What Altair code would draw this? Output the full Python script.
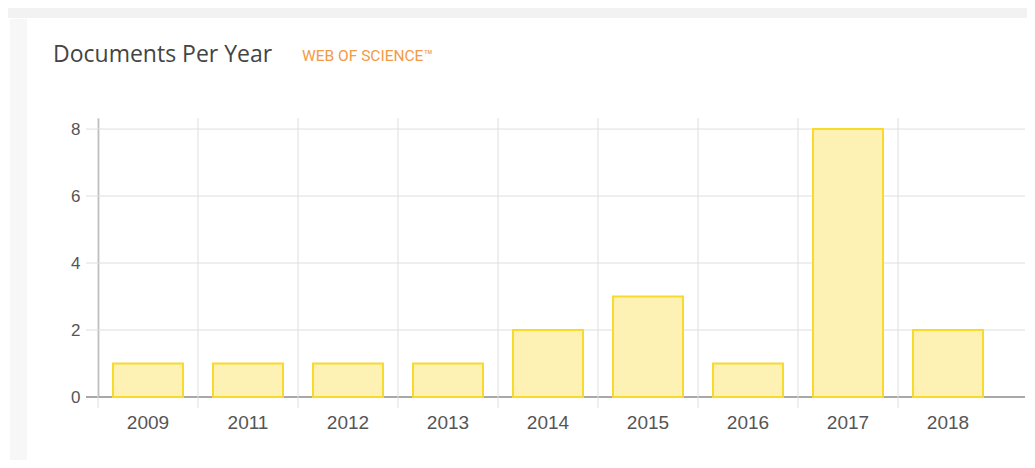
import altair as alt
import pandas as pd

years = ["2009", "2011", "2012", "2013", "2014", "2015", "2016", "2017", "2018"]
counts = [1, 1, 1, 1, 2, 3, 1, 8, 2]
y_ticks = [0, 2, 4, 6, 8]
title_text = "Documents Per Year"
logo_text = "WEB OF SCIENCE\u2122"

df = pd.DataFrame({"year": years, "count": counts})
grid_df = pd.DataFrame({"v": y_ticks})

PLOT_W = 927
PLOT_H = 279
xscale = alt.Scale(range=[0, 900], paddingInner=0.3, paddingOuter=0.15)
yscale = alt.Scale(domain=[0, 8.33], nice=False, zero=True)

xaxis = alt.Axis(
    grid=False,
    ticks=False,
    domain=False,
    labelAngle=0,
    labelFont="Liberation Sans",
    labelFontSize=19,
    labelColor="#555555",
    labelPadding=16,
)
yaxis = alt.Axis(
    values=y_ticks,
    grid=False,
    ticks=False,
    labelFont="Liberation Sans",
    labelFontSize=17,
    labelColor="#555555",
    labelPadding=18,
    domainColor="#a0a0a0",
    domainWidth=1.5,
)

# card decorations
top_band = alt.Chart(pd.DataFrame({"t": [0]})).mark_rect(color="#f2f2f2").encode(
    x=alt.value(-98), x2=alt.value(940), y=alt.value(-110), y2=alt.value(-100)
)
left_strip = alt.Chart(pd.DataFrame({"t": [0]})).mark_rect(color="#f7f7f7").encode(
    x=alt.value(-88), x2=alt.value(-71), y=alt.value(-99), y2=alt.value(345)
)

hgrid = alt.Chart(grid_df).mark_rule().encode(
    y=alt.Y("v:Q", scale=yscale, axis=yaxis, title=None),
    x=alt.value(-12),
    x2=alt.value(PLOT_W),
    color=alt.condition(alt.datum.v == 0, alt.value("#a8a8a8"), alt.value("#dedede")),
    strokeWidth=alt.condition(alt.datum.v == 0, alt.value(2), alt.value(1)),
)

base = alt.Chart(df)

vgrid = base.mark_rule(color="#dedede", strokeWidth=1, xOffset=-15).encode(
    x=alt.X("year:N", bandPosition=0, scale=xscale, sort=years, axis=xaxis, title=None),
    y=alt.value(0),
    y2=alt.value(PLOT_H + 11),
)

bars = base.mark_bar(fill="#fdf1b3", stroke="#f8d92c", strokeWidth=2).encode(
    x=alt.X("year:N", sort=years, scale=xscale, title=None, axis=xaxis),
    y=alt.Y("count:Q", scale=yscale, title=None, axis=yaxis),
)

title_mark = alt.Chart(pd.DataFrame({"t": [title_text]})).mark_text(
    align="left", baseline="alphabetic", font="Open Sans", fontSize=23, color="#444444"
).encode(x=alt.value(-45), y=alt.value(-56), text="t:N")

logo_mark = alt.Chart(pd.DataFrame({"t": [logo_text]})).mark_text(
    align="left", baseline="alphabetic", font="Roboto", fontSize=15.5, color="#f29a45"
).encode(x=alt.value(204), y=alt.value(-57), text="t:N")

chart = (
    alt.layer(top_band, left_strip, hgrid, vgrid, bars, title_mark, logo_mark)
    .properties(
        width=PLOT_W,
        height=PLOT_H,
        autosize=alt.AutoSizeParams(type="none"),
        padding={"left": 90, "top": 110, "right": 2, "bottom": 63},
        background="white",
    )
    .configure_view(stroke=None)
)

chart.save("out.html", embed_options={"renderer": "svg", "actions": False})
